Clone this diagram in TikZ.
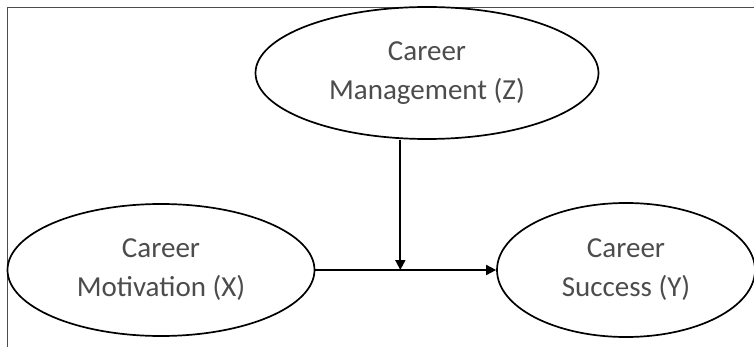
\documentclass[tikz,border=0pt]{standalone}
\usepackage{fontspec}
\setmainfont{Carlito}
\usetikzlibrary{arrows.meta,shapes.geometric,positioning,calc}

\tikzset{
  var/.style={draw, ellipse, line width=1.7pt, inner sep=0pt, align=center,
    text=black!70, font=\fontsize{29}{39}\selectfont,
    execute at begin node={\rule{0pt}{35pt}}},
  link/.style={line width=1.7pt, -{Triangle[length=10pt,width=10pt]}}
}

\begin{document}
\begin{tikzpicture}[x=1pt,y=-1pt]
\useasboundingbox (0,0) rectangle (754,347);
%
% frame
\draw[black!70, line width=0.7pt] (7,347)--(7,7)--(754,7);
%
\node[var, minimum width=343pt, minimum height=132pt] (z) at (427,73) {Career\\Management (Z)};
\node[var, minimum width=307pt, minimum height=132pt] (x) at (161,270) {Career\\Motivation (X)};
\node[var, minimum width=258pt, minimum height=134pt] (y) at (626,270) {Career\\Success (Y)};
%
\coordinate (m) at ($(x.east)!0.47!(y.west)$);
\draw[link] (x.east) -- (y.west);
\draw[link] (m |- z.south) -- (m);
%
\end{tikzpicture}
\end{document}
